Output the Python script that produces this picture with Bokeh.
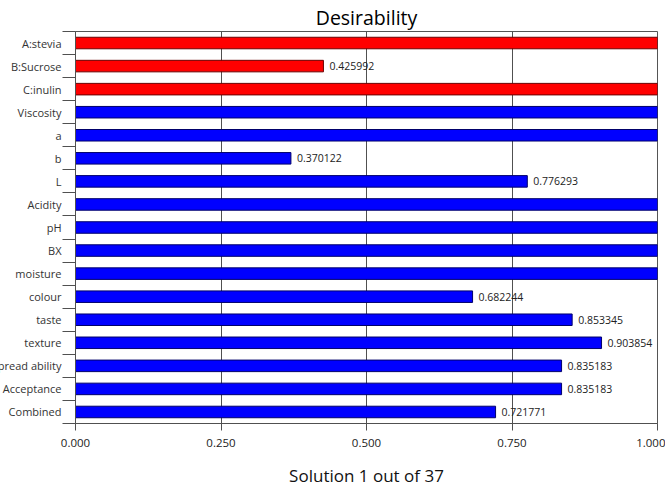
from bokeh.plotting import figure
from bokeh.models import ColumnDataSource, FixedTicker, NumeralTickFormatter
from bokeh.core.properties import value
from bokeh.embed import file_html
from bokeh.resources import INLINE

categories = ["A:stevia", "B:Sucrose", "C:inulin", "Viscosity", "a", "b", "L",
              "Acidity", "pH", "BX", "moisture", "colour", "taste", "texture",
              "spread ability", "Acceptance", "Combined"]
desirability = [1.0, 0.425992, 1.0, 1.0, 1.0, 0.370122, 0.776293,
                1.0, 1.0, 1.0, 1.0, 0.682244, 0.853345, 0.903854,
                0.835183, 0.835183, 0.721771]
group = ["factor"] * 3 + ["response"] * 14
x_ticks = [0.0, 0.25, 0.5, 0.75, 1.0]

n = len(categories)
ypos = [n - i - 0.5 for i in range(n)]
fill = ["#FF0000" if g == "factor" else "#0000FF" for g in group]
edge = ["#6a0000" if g == "factor" else "#00006a" for g in group]
vlabels = ["%g" % v for v in desirability]

src = ColumnDataSource(dict(y=ypos, v=desirability, cat=categories,
                            fill=fill, edge=edge, lab=vlabels))

FONT = "Open Sans"
SHIFT = 11

p = figure(width=665 + SHIFT, height=489, x_range=(0, 1), y_range=(0, n),
           output_backend="svg", toolbar_location=None,
           min_border_left=75 + SHIFT, min_border_right=8, min_border_top=31,
           min_border_bottom=60, title="Desirability")
p.styles = {"margin-left": "-%dpx" % SHIFT}
p.title.align = "center"
p.title.text_font = FONT
p.title.text_font_size = "19.5px"
p.title.text_font_style = "normal"
p.title.text_color = "#000000"
p.title.standoff = 2

p.outline_line_color = "#555555"

p.hbar(y="y", right="v", left=0, height=0.5, source=src,
       fill_color="fill", line_color="edge", line_width=1)

p.text(x="v", y="y", text="lab", source=src, x_offset=6,
       text_align="left", text_baseline="middle",
       text_font=value(FONT), text_font_size="10.5px", text_color="#222222")

# grid
p.ygrid.visible = False
p.xgrid.ticker = FixedTicker(ticks=x_ticks)
p.xgrid.grid_line_color = "#505050"
p.xgrid.grid_line_width = 1

# x axis
p.xaxis.ticker = FixedTicker(ticks=x_ticks)
p.xaxis.formatter = NumeralTickFormatter(format="0.000")
p.xaxis.axis_label = "Solution 1 out of 37"
p.xaxis.axis_label_text_font = FONT
p.xaxis.axis_label_text_font_size = "17px"
p.xaxis.axis_label_text_font_style = "normal"
p.xaxis.axis_label_text_color = "#111111"
p.xaxis.axis_label_standoff = 14
p.xaxis.major_label_text_font = FONT
p.xaxis.major_label_text_font_size = "11.5px"
p.xaxis.major_label_text_color = "#222222"
p.xaxis.major_tick_in = 0
p.xaxis.major_tick_out = 7
p.xaxis.minor_tick_line_color = None
p.xaxis.major_label_standoff = 8
p.xaxis.axis_line_color = "#505050"
p.xaxis.major_tick_line_color = "#505050"

# y axis: labels at centres, ticks at category boundaries
boundaries = list(range(n + 1))
p.yaxis.ticker = FixedTicker(ticks=ypos, minor_ticks=boundaries)
p.yaxis.major_label_overrides = {y: c for y, c in zip(ypos, categories)}
p.yaxis.major_tick_line_color = None
p.yaxis.major_tick_in = 0
p.yaxis.major_tick_out = 0
p.yaxis.major_label_standoff = 1
p.yaxis.major_label_text_font = FONT
p.yaxis.major_label_text_font_size = "11px"
p.yaxis.major_label_text_color = "#333333"
p.yaxis.minor_tick_in = 0
p.yaxis.minor_tick_out = 13
p.yaxis.minor_tick_line_color = "#505050"
p.yaxis.axis_line_color = "#505050"

open("out.html", "w").write(file_html(p, INLINE))
